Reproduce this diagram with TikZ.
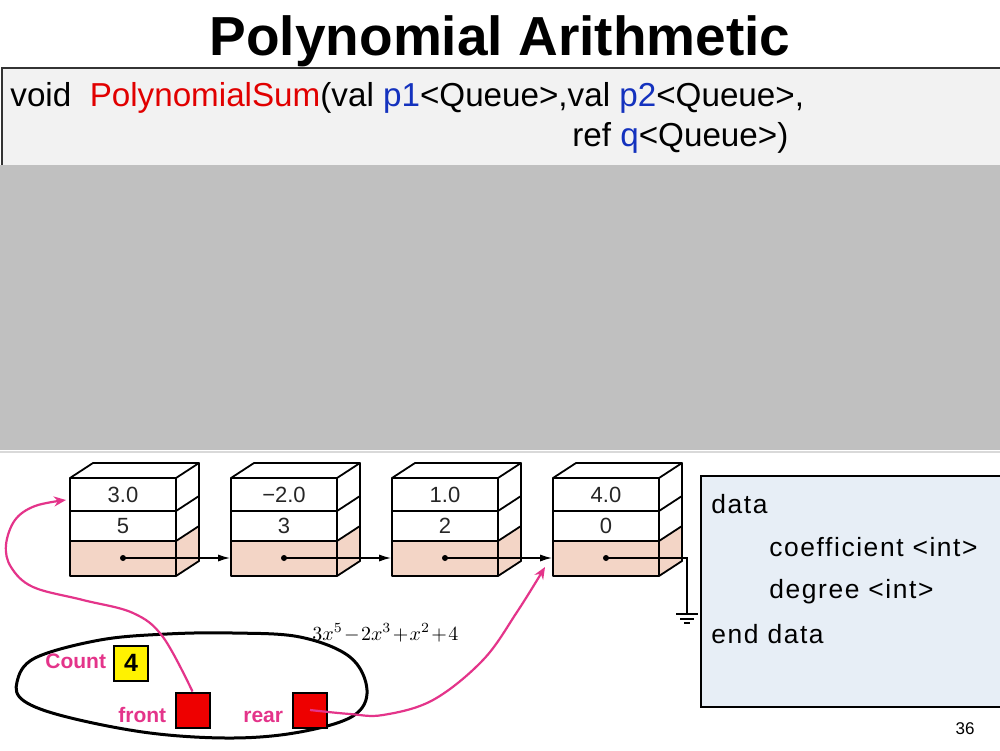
\documentclass[tikz,border=0pt]{standalone}
\usepackage[no-math]{fontspec}
\setmainfont{Liberation Sans}
\newfontfamily\spacedsans[LetterSpace=6]{Liberation Sans}
\usetikzlibrary{arrows.meta}
\definecolor{codebg}{RGB}{242,242,242}
\definecolor{bandgray}{RGB}{192,192,192}
\definecolor{databg}{RGB}{231,238,246}
\definecolor{peach}{RGB}{243,213,198}
\definecolor{fnred}{RGB}{225,0,0}
\definecolor{parblue}{RGB}{20,50,190}
\definecolor{hotpink}{RGB}{228,52,138}
\definecolor{sqred}{RGB}{238,0,0}
\tikzset{
  celltxt/.style={inner sep=0pt, font=\fontsize{11}{13}\selectfont, text=black!85},
  ptrdot/.style={circle, fill=black, inner sep=0pt, minimum size=3pt},
  ptrline/.style={line width=0.7pt, -{Latex[length=6pt,width=3.6pt]}},
  cubeedge/.style={line width=0.9pt, line join=round},
  pinkarr/.style={hotpink, line width=1.1pt, -{Stealth[length=6pt,width=5pt]}},
  pinklbl/.style={hotpink, inner sep=0pt, anchor=base west, font=\fontsize{10.5}{12}\selectfont\bfseries},
  redsq/.style={draw=black, fill=sqred, line width=1pt, minimum width=17pt, minimum height=17.5pt, inner sep=0pt},
  yelsq/.style={draw=black, fill=yellow, line width=1pt, minimum width=17pt, minimum height=17.5pt, inner sep=0pt, font=\fontsize{12.5}{14}\selectfont\bfseries},
  datatxt/.style={inner sep=0pt, anchor=base west, font=\fontsize{13.2}{15}\selectfont\spacedsans},
  codetxt/.style={inner sep=0pt, anchor=base west, font=\fontsize{16.6}{19}\selectfont}
}
\begin{document}
\begin{tikzpicture}[x=0.5pt,y=-0.5pt]
\useasboundingbox (0,0) rectangle (1000,750);
\fill[white] (0,0) rectangle (1000,750);
% title
\node[inner sep=0pt, anchor=base, font=\fontsize{27.5}{30}\selectfont\bfseries] (title) at (500,55) {Polynomial Arithmetic};
% code box
\fill[codebg] (2,68) rectangle (1000,165);
\draw[black!80, line width=0.8pt] (2,165) -- (2,68) -- (1000,68);
\fill[bandgray] (0,165) rectangle (1000,450);
\draw[black!15, line width=0.8pt] (0,452) -- (1000,452);
\node[codetxt] (sig1) at (10,106) {void\ \ \textcolor{fnred}{PolynomialSum}(val \textcolor{parblue}{p1}<Queue>,val \textcolor{parblue}{p2}<Queue>,};
\node[codetxt] (sig2) at (572,146) {ref \textcolor{parblue}{q}<Queue>)};
% cubes
\foreach \k/\X/\a/\b in {1/70/3.0/5, 2/231/−2.0/3, 3/392/1.0/2, 4/553/4.0/0}{
  \fill[white] (\X,478) rectangle (\X+106,541);
  \fill[peach] (\X,541) rectangle (\X+106,576);
  \fill[white] (\X,478) -- (\X+23,463) -- (\X+129,463) -- (\X+106,478) -- cycle;
  \fill[white] (\X+106,478) -- (\X+129,463) -- (\X+129,526) -- (\X+106,541) -- cycle;
  \fill[peach] (\X+106,541) -- (\X+129,526) -- (\X+129,561) -- (\X+106,576) -- cycle;
  \draw[cubeedge] (\X,478) rectangle (\X+106,576);
  \draw[line width=1.2pt] (\X,478) -- (\X+106,478);
  \draw[cubeedge] (\X,511) -- (\X+106,511) -- (\X+129,496);
  \draw[cubeedge] (\X,541) -- (\X+106,541) -- (\X+129,526);
  \draw[cubeedge] (\X,478) -- (\X+23,463) -- (\X+129,463) -- (\X+106,478);
  \draw[cubeedge] (\X+129,463) -- (\X+129,561) -- (\X+106,576);
  \node[celltxt] (b\k a) at (\X+53,495) {\a};
  \node[celltxt] (b\k b) at (\X+53,526) {\b};
  \node[ptrdot] (b\k d) at (\X+53,558) {};
  \coordinate (b\k w) at (\X-1,558);
}
\draw[ptrline] (b1d.center) -- (b2w);
\draw[ptrline] (b2d.center) -- (b3w);
\draw[ptrline] (b3d.center) -- (b4w);
% null pointer / ground
\coordinate (gc) at (687,558);
\coordinate (gt) at (687,614);
\draw[line width=0.8pt] (b4d.center) -- (gc) -- (gt);
\draw[line width=0.9pt] (676,614) -- (698,614);
\draw[line width=0.9pt] (680,619) -- (694,619);
\draw[line width=0.9pt] (684,623) -- (690,623);
% polynomial
\node[inner sep=0pt, anchor=base west] (poly) at (312,640) {\fontsize{10.3}{12}\selectfont\medmuskip=1.2mu $3x^5-2x^3+x^2+4$};
% data box
\fill[databg] (701,476) rectangle (1000,707);
\draw[line width=0.8pt] (1000,476) -- (701,476) -- (701,707) -- (1000,707);
\node[datatxt] (d1) at (711,513) {data};
\node[datatxt] (d2) at (769,556) {coefficient <int>};
\node[datatxt] (d3) at (769,598) {degree <int>};
\node[datatxt] (d4) at (711,643) {end data};
% head structure ellipse
\draw[line width=1.5pt] plot[smooth cycle, tension=0.6] coordinates {
  (17,682) (35,658) (100,640) (167,634) (233,633) (300,637) (350,657)
  (367,690) (353,716) (300,732) (233,738) (150,733) (67,717) (24,701)};
\node[pinklbl] (cntlbl) at (45,668) {Count};
\node[yelsq] (cnt) at (131,663) {4};
\node[pinklbl] (frlbl) at (118,722) {front};
\node[redsq] (fr) at (192.5,710) {};
\node[pinklbl] (rrlbl) at (243,722) {rear};
\node[redsq] (rr) at (310,710) {};
% pointers
\coordinate (fin) at (66,500);
\coordinate (rin) at (545,567);
\draw[pinkarr] plot[smooth, tension=0.6] coordinates {(fr.north) (163,637) (133,613) (83,600) (33,587) (11,567) (6,545) (15,520) (35,506) (fin)};
\draw[pinkarr] plot[smooth, tension=0.6] coordinates {(rr.center) (350,714) (383,715) (433,700) (483,660) (517,612) (rin)};
% page number
\node[inner sep=0pt, anchor=base east, font=\fontsize{8.5}{10}\selectfont] (pg) at (975,734) {36};
\end{tikzpicture}
\end{document}
